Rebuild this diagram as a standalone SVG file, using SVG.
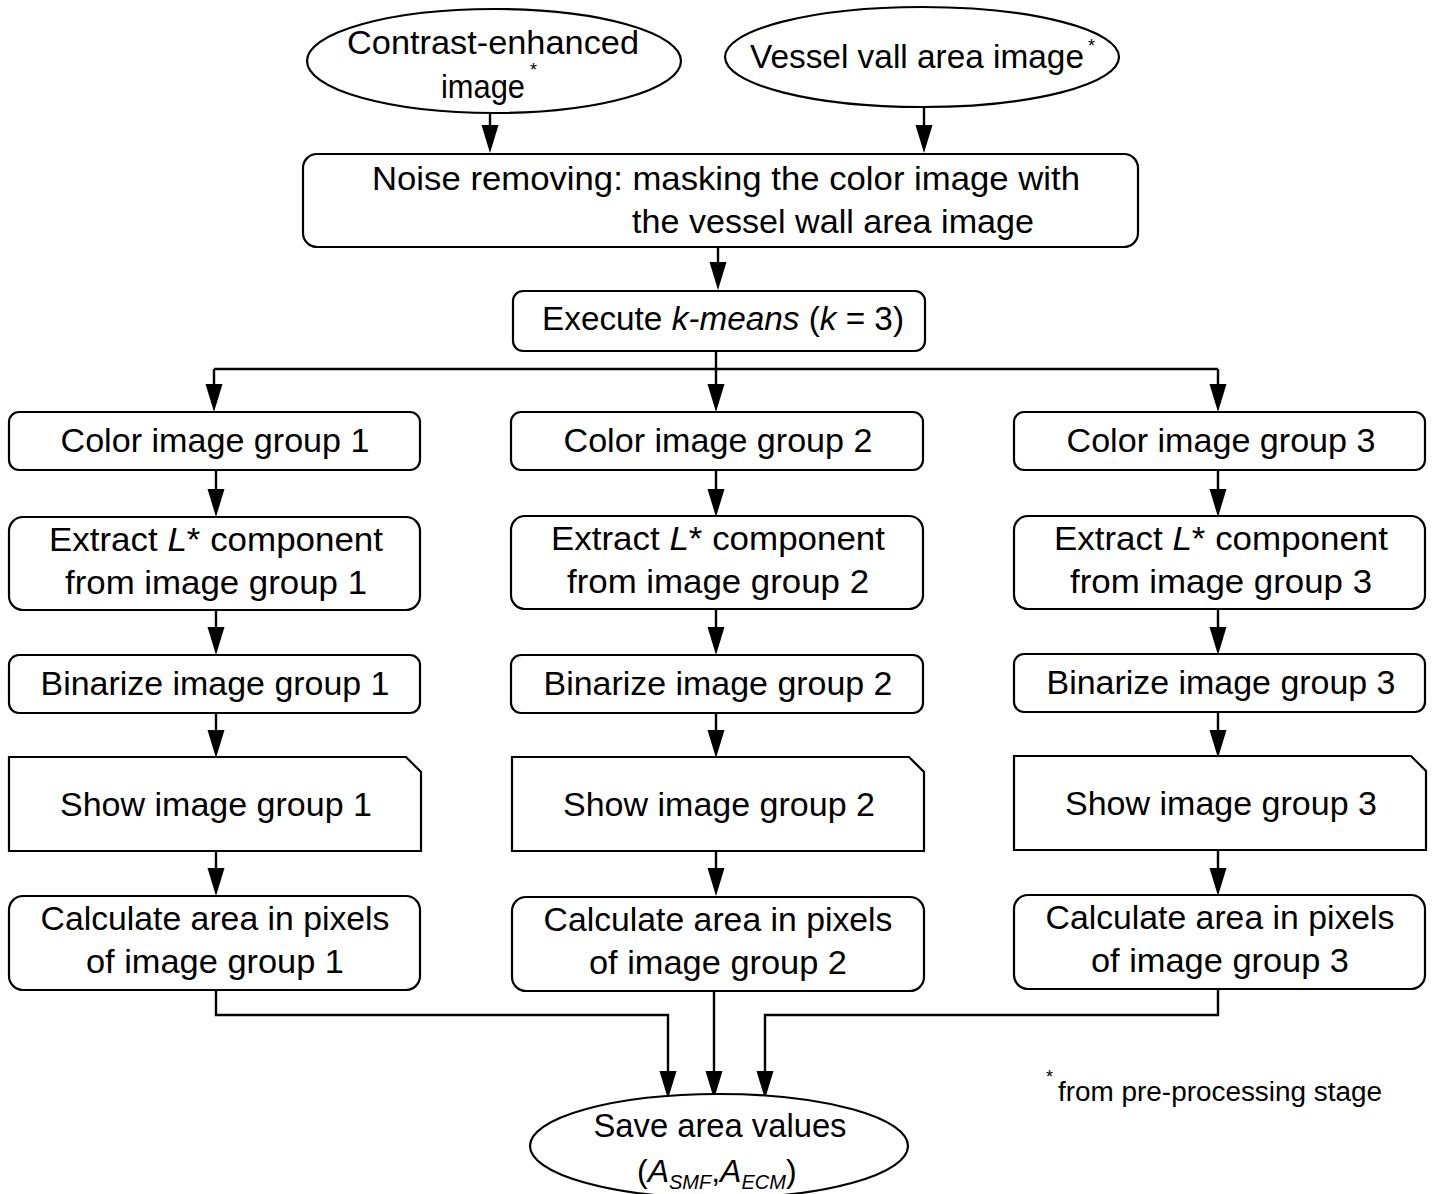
<svg xmlns="http://www.w3.org/2000/svg" width="1434" height="1194" viewBox="0 0 1434 1194">
<style>
.n{fill:#fff;stroke:#000;stroke-width:2.2}
.t{font-family:"Liberation Sans",Arial,sans-serif;font-size:33px;fill:#000;text-anchor:middle}
.s{font-family:"Liberation Sans",Arial,sans-serif;font-size:18px;fill:#000}
.c{fill:none;stroke:#000;stroke-width:2.4}
.i{font-style:italic}
</style>
<rect width="1434" height="1194" fill="#fff"/>
<g id="connectors">
<path class="c" d="M490,112 V125"/><path d="M481.5,125 H498.5 L490,153 Z"/>
<path class="c" d="M924,108 V125"/><path d="M915.5,125 H932.5 L924,153 Z"/>
<path class="c" d="M718,247 V262"/><path d="M709.5,262 H726.5 L718,290 Z"/>
<path class="c" d="M716,351 V369 M214,369 H1218 M214,369 V384 M716,369 V384 M1218,369 V384"/>
<path d="M205.5,384 H222.5 L214,412 Z"/><path d="M707.5,384 H724.5 L716,412 Z"/><path d="M1209.5,384 H1226.5 L1218,412 Z"/>
<path class="c" d="M216,470 V489 M216,610 V627 M216,713 V730 M216,851 V868"/>
<path d="M207.5,489 H224.5 L216,517 Z"/><path d="M207.5,627 H224.5 L216,655 Z"/><path d="M207.5,730 H224.5 L216,758 Z"/><path d="M207.5,868 H224.5 L216,896 Z"/>
<path class="c" d="M716,470 V489 M716,610 V627 M716,713 V730 M716,851 V868"/>
<path d="M707.5,489 H724.5 L716,517 Z"/><path d="M707.5,627 H724.5 L716,655 Z"/><path d="M707.5,730 H724.5 L716,758 Z"/><path d="M707.5,868 H724.5 L716,896 Z"/>
<path class="c" d="M1218,470 V489 M1218,610 V627 M1218,713 V730 M1218,851 V868"/>
<path d="M1209.5,489 H1226.5 L1218,517 Z"/><path d="M1209.5,627 H1226.5 L1218,655 Z"/><path d="M1209.5,730 H1226.5 L1218,758 Z"/><path d="M1209.5,868 H1226.5 L1218,896 Z"/>
<path class="c" d="M216,990 V1015 H668 V1071"/><path d="M659.5,1071 H676.5 L668,1099 Z"/>
<path class="c" d="M714,990 V1071"/><path d="M705.5,1071 H722.5 L714,1099 Z"/>
<path class="c" d="M1218,990 V1015 H765 V1071"/><path d="M756.5,1071 H773.5 L765,1099 Z"/>
</g>
<g id="in1">
<ellipse class="n" cx="494" cy="61" rx="187" ry="52"/>
<text class="t" x="493" y="54" textLength="292" lengthAdjust="spacingAndGlyphs">Contrast-enhanced</text>
<text class="t" x="483" y="98" textLength="84" lengthAdjust="spacingAndGlyphs">image</text>
<text class="s" x="530" y="76">*</text>
</g>
<g id="in2">
<ellipse class="n" cx="922" cy="57" rx="197" ry="50"/>
<text class="t" x="917" y="68" textLength="334" lengthAdjust="spacingAndGlyphs">Vessel vall area image</text>
<text class="s" x="1088" y="52">*</text>
</g>
<g id="noise">
<rect class="n" x="303" y="154" width="835" height="93" rx="14"/>
<text class="t" x="726" y="190" textLength="708" lengthAdjust="spacingAndGlyphs">Noise removing: masking the color image with</text>
<text class="t" x="833" y="233" textLength="402" lengthAdjust="spacingAndGlyphs">the vessel wall area image</text>
</g>
<g id="kmeans">
<rect class="n" x="513" y="291" width="412" height="60" rx="10"/>
<text class="t" x="723" y="330" textLength="362" lengthAdjust="spacingAndGlyphs">Execute <tspan class="i">k-means</tspan> (<tspan class="i">k</tspan> = 3)</text>
</g>
<g id="color1"><rect class="n" x="9" y="412" width="411" height="58" rx="10"/><text class="t" x="215" y="452" textLength="309" lengthAdjust="spacingAndGlyphs">Color image group 1</text></g>
<g id="color2"><rect class="n" x="511" y="412" width="412" height="58" rx="10"/><text class="t" x="718" y="452" textLength="309" lengthAdjust="spacingAndGlyphs">Color image group 2</text></g>
<g id="color3"><rect class="n" x="1014" y="412" width="411" height="58" rx="10"/><text class="t" x="1221" y="452" textLength="309" lengthAdjust="spacingAndGlyphs">Color image group 3</text></g>
<g id="extract1"><rect class="n" x="9" y="517" width="411" height="93" rx="14"/><text class="t" x="216" y="551" textLength="334" lengthAdjust="spacingAndGlyphs">Extract <tspan class="i">L</tspan>* component</text><text class="t" x="216" y="594" textLength="302" lengthAdjust="spacingAndGlyphs">from image group 1</text></g>
<g id="extract2"><rect class="n" x="511" y="516" width="412" height="93" rx="14"/><text class="t" x="718" y="550" textLength="334" lengthAdjust="spacingAndGlyphs">Extract <tspan class="i">L</tspan>* component</text><text class="t" x="718" y="593" textLength="302" lengthAdjust="spacingAndGlyphs">from image group 2</text></g>
<g id="extract3"><rect class="n" x="1014" y="516" width="411" height="93" rx="14"/><text class="t" x="1221" y="550" textLength="334" lengthAdjust="spacingAndGlyphs">Extract <tspan class="i">L</tspan>* component</text><text class="t" x="1221" y="593" textLength="302" lengthAdjust="spacingAndGlyphs">from image group 3</text></g>
<g id="bin1"><rect class="n" x="9" y="655" width="411" height="58" rx="10"/><text class="t" x="215" y="695" textLength="349" lengthAdjust="spacingAndGlyphs">Binarize image group 1</text></g>
<g id="bin2"><rect class="n" x="511" y="655" width="412" height="58" rx="10"/><text class="t" x="718" y="695" textLength="349" lengthAdjust="spacingAndGlyphs">Binarize image group 2</text></g>
<g id="bin3"><rect class="n" x="1014" y="654" width="411" height="58" rx="10"/><text class="t" x="1221" y="694" textLength="349" lengthAdjust="spacingAndGlyphs">Binarize image group 3</text></g>
<g id="show1"><path class="n" d="M9,757 H406 L421,772 V851 H9 Z"/><text class="t" x="216" y="816" textLength="312" lengthAdjust="spacingAndGlyphs">Show image group 1</text></g>
<g id="show2"><path class="n" d="M512,757 H909 L924,772 V851 H512 Z"/><text class="t" x="719" y="816" textLength="312" lengthAdjust="spacingAndGlyphs">Show image group 2</text></g>
<g id="show3"><path class="n" d="M1014,756 H1411 L1426,771 V850 H1014 Z"/><text class="t" x="1221" y="815" textLength="312" lengthAdjust="spacingAndGlyphs">Show image group 3</text></g>
<g id="calc1"><rect class="n" x="9" y="896" width="411" height="94" rx="14"/><text class="t" x="215" y="930" textLength="349" lengthAdjust="spacingAndGlyphs">Calculate area in pixels</text><text class="t" x="215" y="973" textLength="258" lengthAdjust="spacingAndGlyphs">of image group 1</text></g>
<g id="calc2"><rect class="n" x="512" y="897" width="412" height="94" rx="14"/><text class="t" x="718" y="931" textLength="349" lengthAdjust="spacingAndGlyphs">Calculate area in pixels</text><text class="t" x="718" y="974" textLength="258" lengthAdjust="spacingAndGlyphs">of image group 2</text></g>
<g id="calc3"><rect class="n" x="1014" y="895" width="411" height="94" rx="14"/><text class="t" x="1220" y="929" textLength="349" lengthAdjust="spacingAndGlyphs">Calculate area in pixels</text><text class="t" x="1220" y="972" textLength="258" lengthAdjust="spacingAndGlyphs">of image group 3</text></g>
<g id="save">
<ellipse class="n" cx="719" cy="1146" rx="189" ry="52"/>
<text class="t" x="720" y="1137" textLength="253" lengthAdjust="spacingAndGlyphs">Save area values</text>
<text x="637" y="1182" style="font-family:'Liberation Sans',sans-serif;font-size:32px">(<tspan class="i">A</tspan><tspan class="i" font-size="20" dy="7">SMF</tspan><tspan dy="-7">,</tspan><tspan class="i">A</tspan><tspan class="i" font-size="20" dy="7">ECM</tspan><tspan dy="-7">)</tspan></text>
</g>
<g id="footnote">
<text class="s" x="1046" y="1083">*</text>
<text x="1058" y="1101" textLength="324" lengthAdjust="spacingAndGlyphs" style="font-family:'Liberation Sans',sans-serif;font-size:27px">from pre-processing stage</text>
</g>
</svg>
